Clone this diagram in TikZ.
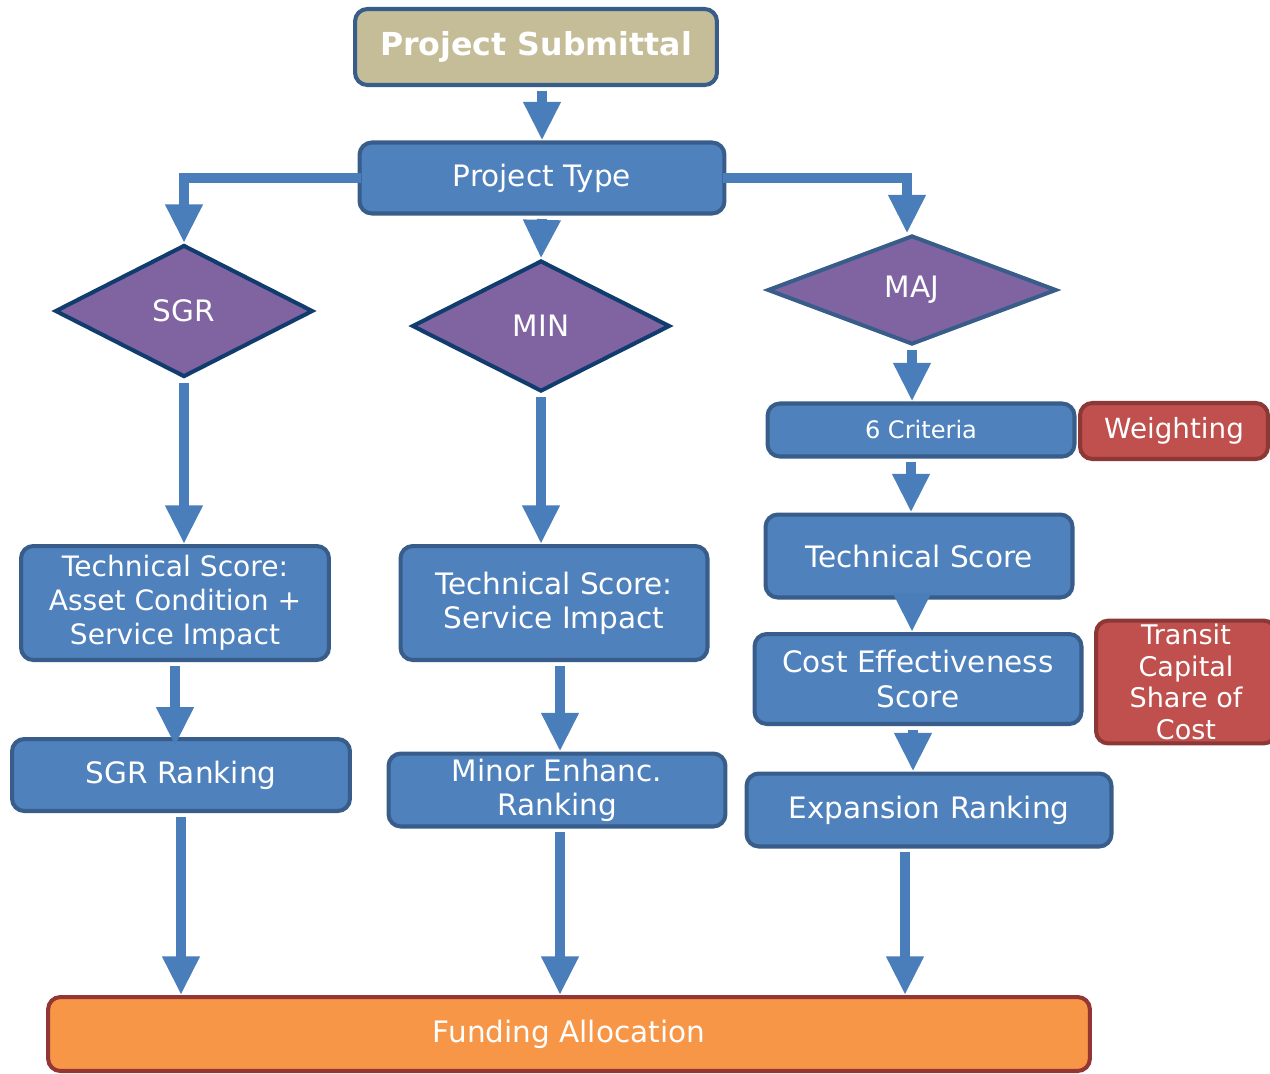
\documentclass[tikz,border=0pt]{standalone}
\usepackage{fontspec}
\setmainfont{DejaVu Sans}
\usepackage{tikz}
\usetikzlibrary{
  shapes.geometric,
  arrows.meta,
  positioning
}
\definecolor{BoxBlue}{RGB}{79, 129, 189}
\definecolor{BoxEdge}{RGB}{56, 93, 138}
\definecolor{FlowBlue}{RGB}{74, 126, 187}
\definecolor{DiaPurple}{RGB}{128, 100, 162}
\definecolor{DiaEdge}{RGB}{16, 60, 110}
\definecolor{WeightRed}{RGB}{192, 80, 77}
\definecolor{WeightEdge}{RGB}{140, 56, 54}
\definecolor{SubmitTan}{RGB}{196, 189, 151}
\definecolor{FundOrange}{RGB}{247, 150, 70}
\definecolor{FundEdge}{RGB}{148, 54, 52}
\tikzset{
    procbox/.style={rectangle, rounded corners=7pt, draw=BoxEdge, line width=2.3pt,
        fill=BoxBlue, text=white, align=center, inner sep=2pt,
        font=\fontsize{16.8}{19.5}\selectfont},
    inputbox/.style={procbox, fill=WeightRed, draw=WeightEdge},
    decision/.style={diamond, draw=DiaEdge, line width=2.3pt, fill=DiaPurple,
        text=white, inner sep=0pt, font=\fontsize{16.8}{19.5}\selectfont},
    flow/.style={draw=FlowBlue, line width=5.6pt,
        -{Triangle[width=20pt,length=22pt]}, shorten <=2pt}
}
\begin{document}
\begin{tikzpicture}[x=0.02cm, y=-0.02cm]
    \useasboundingbox (0,0) rectangle (1270,1073);

    % top of the chart
    \node[procbox, fill=SubmitTan, minimum width=7.24cm, minimum height=1.52cm,
        font=\fontsize{18}{20}\selectfont\bfseries] (submit) at (536,47) {Project Submittal};
    \node[procbox, minimum width=7.3cm, minimum height=1.42cm] (ptype) at (542,178) {Project Type};

    % the three project types
    \node[decision, minimum width=5.16cm, minimum height=2.64cm] (sgr) at (184,311) {SGR};
    \node[decision, minimum width=5.16cm, minimum height=2.62cm] (min) at (541,326) {MIN};
    \node[decision, draw=BoxEdge, minimum width=5.78cm, minimum height=2.18cm] (maj) at (912,290) {MAJ};

    % SGR column
    \node[procbox, minimum width=6.16cm, minimum height=2.28cm,
        font=\fontsize{16}{19.3}\selectfont] (sgrtech) at (175,603)
        {Technical Score:\\Asset Condition +\\Service Impact};
    \node[procbox, minimum width=6.76cm, minimum height=1.44cm] (sgrrank) at (181,775) {SGR Ranking};

    % MIN column
    \node[procbox, minimum width=6.14cm, minimum height=2.28cm] (mintech) at (554,603)
        {Technical Score:\\Service Impact};
    \node[procbox, minimum width=6.74cm, minimum height=1.46cm] (minrank) at (557,790)
        {Minor Enhanc.\\Ranking};

    % MAJ column
    \node[procbox, minimum width=6.14cm, minimum height=1.06cm,
        font=\fontsize{13.7}{16}\selectfont] (crit) at (921,430) {6 Criteria};
    \node[inputbox, minimum width=3.76cm, minimum height=1.12cm,
        font=\fontsize{15.8}{18}\selectfont] (weight) at (1174,431) {Weighting};
    \node[procbox, minimum width=6.14cm, minimum height=1.66cm] (majtech) at (919,556) {Technical Score};
    \node[procbox, minimum width=6.54cm, minimum height=1.8cm] (cost) at (918,679)
        {Cost Effectiveness\\Score};
    \node[inputbox, minimum width=3.6cm, minimum height=2.42cm,
        font=\fontsize{15.4}{18}\selectfont] (transit) at (1186,682)
        {Transit\\Capital\\Share of\\Cost};
    \node[procbox, minimum width=7.3cm, minimum height=1.46cm] (exprank) at (929,810) {Expansion Ranking};

    % bottom
    \node[procbox, fill=FundOrange, draw=FundEdge, minimum width=20.84cm,
        minimum height=1.48cm] (fund) at (569,1034) {Funding Allocation};

    % connectors
    \draw[flow] (ptype.north |- submit.south) -- (ptype.north);
    \draw[flow, shorten <=-2pt] (ptype.west) -| (sgr.north);
    \draw[flow] (ptype.south) -- (min.north);
    \draw[flow, shorten <=-2pt] (ptype.east) -| ([xshift=-0.1cm]maj.north);
    \draw[flow] (sgr.south) -- (sgr.south |- sgrtech.north);
    \draw[flow] (min.south) -- (min.south |- mintech.north);
    \draw[flow] (maj.south) -- (maj.south |- crit.north);
    \draw[flow] ([xshift=-0.2cm]crit.south) -- ([xshift=-0.2cm]crit.south |- majtech.north);
    \draw[flow, shorten <=-4pt] ([xshift=-0.14cm]majtech.south) -- ([xshift=-0.14cm]majtech.south |- cost.north);
    \draw[flow] ([xshift=-0.1cm]cost.south) -- ([xshift=-0.1cm]cost.south |- exprank.north);
    \draw[flow, shorten >=-5pt] (sgrtech.south) -- (sgrtech.south |- sgrrank.north);
    \draw[flow] ([xshift=0.12cm]mintech.south) -- ([xshift=0.12cm]mintech.south |- minrank.north);
    \draw[flow] (sgrrank.south) -- (sgrrank.south |- fund.north);
    \draw[flow] ([xshift=0.06cm]minrank.south) -- ([xshift=0.06cm]minrank.south |- fund.north);
    \draw[flow] ([xshift=-0.48cm]exprank.south) -- ([xshift=-0.48cm]exprank.south |- fund.north);
\end{tikzpicture}
\end{document}
